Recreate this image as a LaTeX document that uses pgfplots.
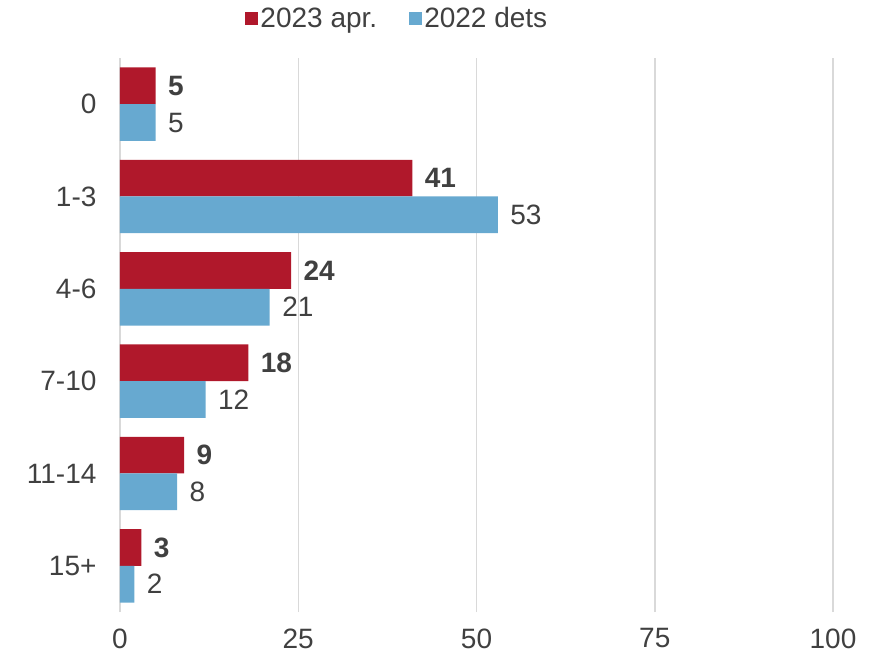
\documentclass[border=0pt]{standalone}
\usepackage{pgfplots}
\pgfplotsset{compat=1.18}
\usepackage{fontspec}
\setmainfont{Liberation Sans}
\definecolor{cred}{HTML}{B0182B}
\definecolor{cblue}{HTML}{67A9D0}
\definecolor{ctext}{HTML}{404040}
\definecolor{cgrid}{HTML}{D9D9D9}
\begin{document}
\begin{tikzpicture}
\path[use as bounding box] (-120pt,-46pt) rectangle (757pt,612pt);
\begin{axis}[
  scale only axis,
  width=713pt, height=554pt,
  xbar,
  xmin=0, xmax=100,
  ymin=-0.5, ymax=5.5,
  bar width=36.7pt,
  xtick={0,25,50,75,100},
  ytick={0,1,2,3,4,5},
  yticklabels={15+,11-14,7-10,4-6,1-3,0},
  axis line style={draw=none},
  major tick length=0pt,
  xmajorgrids,
  grid style={cgrid, line width=1.5pt},
  font=\fontsize{28}{33}\selectfont,
  tick label style={ctext, font=\fontsize{28}{33}\selectfont},
  /pgf/number format/assume math mode=true,
  xticklabel style={yshift=-13pt},
  yticklabel style={xshift=-20pt},
  nodes near coords,
  nodes near coords style={ctext, font=\fontsize{28}{33}\selectfont, xshift=9pt},
  legend style={draw=none, fill=none, at={(0.389,1.072)}, anchor=center,
    legend columns=2, font=\fontsize{28}{33}\selectfont, text=ctext,
    /tikz/every even column/.append style={column sep=30pt}},
  legend image code/.code={\fill[#1] (0pt,-6.5pt) rectangle (13pt,6.5pt);},
]
\addplot[fill=cred, draw=none, bar shift=18.35pt,
  nodes near coords style={font=\fontsize{28}{33}\selectfont\bfseries}]
  coordinates {(5,5) (41,4) (24,3) (18,2) (9,1) (3,0)};
\addlegendentry{2023 apr.}
\addplot[fill=cblue, draw=none, bar shift=-18.35pt]
  coordinates {(5,5) (53,4) (21,3) (12,2) (8,1) (2,0)};
\addlegendentry{2022 dets}
\end{axis}
\end{tikzpicture}
\end{document}
